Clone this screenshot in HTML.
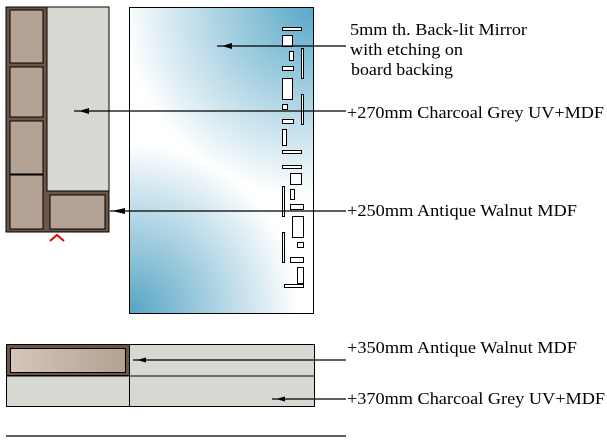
<!DOCTYPE html>
<html><head><meta charset="utf-8"><style>html,body{margin:0;padding:0;background:#fff}svg{display:block}</style></head><body>
<svg width="607" height="442" viewBox="0 0 607 442" xmlns="http://www.w3.org/2000/svg" font-family="Liberation Serif, serif" font-size="17">
<defs>
<radialGradient id="tr" gradientUnits="userSpaceOnUse" cx="313" cy="7" r="190">
<stop offset="0" stop-color="#5aa8c8"/><stop offset="1" stop-color="#5aa8c8" stop-opacity="0"/></radialGradient>
<radialGradient id="bl" gradientUnits="userSpaceOnUse" cx="129" cy="313" r="170">
<stop offset="0" stop-color="#55a4c5"/><stop offset="1" stop-color="#55a4c5" stop-opacity="0"/></radialGradient>
<linearGradient id="w" x1="0" y1="0" x2="1" y2="0"><stop offset="0" stop-color="#d4c6bb"/><stop offset="1" stop-color="#b3a191"/></linearGradient>
</defs>
<rect x="6" y="7" width="103" height="225" fill="#6d5646" stroke="#000" stroke-width="1"/>
<rect x="47" y="7" width="62" height="184" fill="#d6d9d2" stroke="#000" stroke-width="1"/>
<g fill="#b4a395" stroke="#000" stroke-width="1">
<rect x="10" y="10" width="33" height="53"/><rect x="10" y="67" width="33" height="50"/><rect x="10" y="121" width="33" height="53"/><rect x="10" y="175" width="33" height="54"/>
<rect x="50" y="195" width="55" height="34"/></g>
<path d="M50 241 L57 235 L64 241" fill="none" stroke="#e00" stroke-width="2"/>
<rect x="129.5" y="7.5" width="184" height="306" fill="#fff"/>
<rect x="129.5" y="7.5" width="184" height="306" fill="url(#tr)"/>
<rect x="129.5" y="7.5" width="184" height="306" fill="url(#bl)"/>
<rect x="129.5" y="7.5" width="184" height="306" fill="none" stroke="#000"/>
<g fill="#fff" stroke="#000" stroke-width="1">
<rect x="282.5" y="27.5" width="19" height="3"/><rect x="282.5" y="35.5" width="10" height="11"/><rect x="289.5" y="51.5" width="4" height="9"/><rect x="301.5" y="48.5" width="2" height="30"/><rect x="282.5" y="66.5" width="11" height="4"/><rect x="282.5" y="78.5" width="10" height="21"/><rect x="282.5" y="104.5" width="5" height="5"/><rect x="301.5" y="94.5" width="2" height="30"/><rect x="282.5" y="119.5" width="11" height="4"/><rect x="282.5" y="129.5" width="4" height="16"/><rect x="282.5" y="150.5" width="19" height="3"/><rect x="282.5" y="165.5" width="19" height="3"/><rect x="290.5" y="173.5" width="11" height="11"/><rect x="282.5" y="186.5" width="2" height="30"/><rect x="290.5" y="189.5" width="4" height="10"/><rect x="290.5" y="204.5" width="13" height="5"/><rect x="292.5" y="216.5" width="11" height="21"/><rect x="297.5" y="242.5" width="6" height="5"/><rect x="282.5" y="232.5" width="2" height="30"/><rect x="290.5" y="257.5" width="13" height="5"/><rect x="297.5" y="267.5" width="6" height="16"/><rect x="284.5" y="284.5" width="19" height="3"/>
</g>
<rect x="6.5" y="344.5" width="308" height="62" fill="#d6d9d2" stroke="#000"/>
<line x1="6" y1="376" x2="315" y2="376" stroke="#000"/>
<line x1="129.5" y1="344" x2="129.5" y2="407" stroke="#000"/>
<rect x="6.5" y="344.5" width="123" height="31" fill="#6d5646" stroke="#000"/>
<rect x="10.5" y="348.5" width="115" height="24" fill="url(#w)" stroke="#000"/>
<g stroke="#000" stroke-width="1.2">
<line x1="217" y1="46" x2="346" y2="46"/><line x1="74" y1="111" x2="346" y2="111"/><line x1="110" y1="211" x2="346" y2="211"/>
<line x1="133" y1="360" x2="346" y2="360"/><line x1="272" y1="399" x2="346" y2="399"/>
<line x1="6" y1="436" x2="346" y2="436"/></g>
<g fill="#000">
<path d="M222 46 L232 43 L232 49 Z"/><path d="M79 111 L89 108 L89 114 Z"/><path d="M112 211 L125 208 L125 214 Z"/>
<path d="M137 360 L146 357.5 L146 362.5 Z"/><path d="M276 399 L285 396.5 L285 401.5 Z"/></g>
<g fill="#000">
<text x="350" y="35" textLength="177" lengthAdjust="spacingAndGlyphs">5mm th. Back-lit Mirror</text>
<text x="350" y="55" textLength="113" lengthAdjust="spacingAndGlyphs">with etching on</text>
<text x="351" y="75" textLength="102" lengthAdjust="spacingAndGlyphs">board backing</text>
<text x="347" y="118" textLength="257" lengthAdjust="spacingAndGlyphs">+270mm Charcoal Grey UV+MDF</text>
<text x="347" y="216" textLength="230" lengthAdjust="spacingAndGlyphs">+250mm Antique Walnut MDF</text>
<text x="347" y="353" textLength="230" lengthAdjust="spacingAndGlyphs">+350mm Antique Walnut MDF</text>
<text x="347" y="404" textLength="258" lengthAdjust="spacingAndGlyphs">+370mm Charcoal Grey UV+MDF</text>
</g>
</svg>
</body></html>
